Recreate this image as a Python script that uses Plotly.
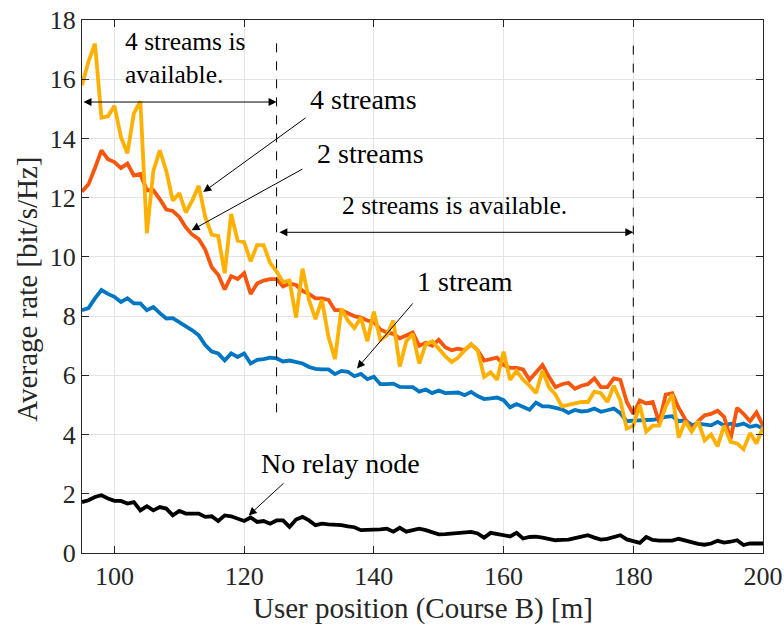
import plotly.graph_objects as go

# ---------------- data ----------------
position_m = list(range(95, 201))

rate_4_streams = [
    15.8, 16.6, 17.2, 14.7, 14.75, 15.1, 14.05, 13.5, 14.85, 15.25,
    10.8, 12.9, 13.6, 12.9, 11.9, 12.15, 11.5, 11.9, 12.4, 11.35,
    10.75, 10.7, 9.45, 11.45, 10.55, 10.5, 9.85, 10.4, 10.4, 9.8,
    9.5, 9.15, 9.2, 7.95, 9.6, 8.55, 7.9, 8.55, 7.3, 6.55,
    8.25, 7.85, 7.6, 7.95, 7.15, 8.15, 7.2, 7.35, 7.85, 6.3,
    7.15, 7.4, 6.4, 7.05, 7.15, 6.9, 6.65, 6.45, 6.6, 6.85,
    7.05, 6.85, 5.95, 6.1, 5.85, 6.8, 5.85, 6.15, 5.85, 5.65,
    5.4, 6.15, 5.6, 5.35, 4.95, 5.0, 5.05, 5.1, 5.1, 5.45,
    5.4, 5.1, 5.65, 5.15, 4.2, 4.3, 5.0, 4.1, 4.3, 4.3,
    4.95, 5.35, 3.9, 4.45, 4.1, 4.45, 3.8, 4.0, 3.6, 4.3,
    3.75, 3.7, 3.5, 4.05, 3.7, 4.25,
]

rate_2_streams = [
    12.2, 12.45, 13.0, 13.6, 13.3, 13.2, 13.0, 13.15, 12.75, 12.8,
    12.25, 12.25, 11.95, 11.6, 11.55, 11.35, 11.0, 10.75, 10.6, 10.25,
    9.65, 9.4, 8.9, 9.35, 9.25, 9.45, 8.75, 9.1, 9.2, 9.25,
    9.25, 9.0, 9.1, 9.05, 8.85, 8.75, 8.6, 8.6, 8.55, 8.2,
    8.2, 8.1, 8.0, 7.95, 7.85, 7.8, 7.55, 7.45, 7.4, 7.25,
    7.35, 7.45, 7.0, 7.1, 7.0, 7.2, 6.95, 6.85, 6.9, 6.85,
    7.05, 6.85, 6.5, 6.55, 6.6, 6.35, 6.25, 6.25, 6.2, 5.85,
    6.1, 6.35, 5.95, 5.6, 5.7, 5.75, 5.55, 5.65, 5.7, 5.9,
    5.6, 5.6, 5.9, 5.85, 5.1, 4.7, 5.15, 5.05, 5.1, 4.4,
    5.35, 5.4, 4.9, 4.5, 4.15, 4.45, 4.65, 4.7, 4.8, 4.6,
    3.85, 4.9, 4.7, 4.45, 4.75, 4.3,
]

rate_1_stream = [
    8.2, 8.27, 8.6, 8.88, 8.75, 8.65, 8.48, 8.6, 8.43, 8.43,
    8.2, 8.31, 8.1, 7.92, 7.93, 7.8, 7.65, 7.52, 7.35, 7.02,
    6.8, 6.74, 6.5, 6.74, 6.62, 6.74, 6.4, 6.52, 6.55, 6.6,
    6.57, 6.47, 6.5, 6.45, 6.4, 6.28, 6.22, 6.2, 6.2, 6.04,
    6.15, 6.12, 5.97, 6.05, 5.87, 5.95, 5.7, 5.7, 5.72, 5.61,
    5.61, 5.6, 5.45, 5.52, 5.4, 5.49, 5.4, 5.42, 5.42, 5.33,
    5.44, 5.3, 5.2, 5.22, 5.25, 5.16, 4.92, 5.03, 4.95, 4.84,
    5.08, 4.95, 4.95, 4.9, 4.85, 4.73, 4.83, 4.78, 4.8, 4.88,
    4.77, 4.82, 4.88, 4.72, 4.45, 4.47, 4.48, 4.48, 4.5, 4.54,
    4.6, 4.62, 4.45, 4.48, 4.32, 4.37, 4.35, 4.31, 4.43, 4.31,
    4.37, 4.31, 4.37, 4.26, 4.31, 4.2,
]

rate_no_relay = [
    1.72, 1.78, 1.89, 1.95, 1.84, 1.76, 1.76, 1.67, 1.72, 1.44,
    1.58, 1.44, 1.55, 1.5, 1.27, 1.42, 1.33, 1.33, 1.33, 1.22,
    1.24, 1.08, 1.27, 1.24, 1.16, 1.08, 1.2, 1.05, 1.08, 0.99,
    1.1, 1.1, 0.88, 1.13, 1.22, 1.1, 0.94, 0.99, 0.97, 0.96,
    0.94, 0.9, 0.87, 0.77, 0.77, 0.79, 0.8, 0.82, 0.72, 0.85,
    0.72, 0.77, 0.82, 0.77, 0.7, 0.63, 0.64, 0.65, 0.67, 0.69,
    0.71, 0.66, 0.52, 0.68, 0.65, 0.6, 0.56, 0.68, 0.49, 0.54,
    0.55, 0.52, 0.48, 0.43, 0.44, 0.45, 0.5, 0.55, 0.6, 0.52,
    0.45, 0.48, 0.54, 0.6, 0.46, 0.4, 0.34, 0.54, 0.44, 0.42,
    0.41, 0.42, 0.48, 0.42, 0.37, 0.31, 0.28, 0.32, 0.41, 0.35,
    0.38, 0.43, 0.27, 0.32, 0.32, 0.32,
]

x_ticks = [100, 120, 140, 160, 180, 200]
y_ticks = [0, 2, 4, 6, 8, 10, 12, 14, 16, 18]

# ---------------- figure ----------------
FONT = "Liberation Serif"
fig = go.Figure()

series = [
    ("1 stream", rate_1_stream, "#0076C2"),
    ("2 streams", rate_2_streams, "#F8560C"),
    ("4 streams", rate_4_streams, "#FFB000"),
    ("No relay node", rate_no_relay, "#000000"),
]
for name, vals, col in series:
    fig.add_trace(go.Scatter(x=position_m, y=vals, mode="lines", name=name,
                             line=dict(color=col, width=3.8), showlegend=False))

# dashed boundaries
fig.add_shape(type="line", x0=125, x1=125, y0=4.75, y1=17.4,
              line=dict(color="black", width=1, dash="dash"))
fig.add_shape(type="line", x0=180, x1=180, y0=2.85, y1=17.3,
              line=dict(color="black", width=1, dash="dash"))

ann = []
# double arrows
ann.append(dict(x=125, y=15.23, ax=95, ay=15.23, xref="x", yref="y", axref="x", ayref="y",
                text="", showarrow=True, arrowside="end+start", arrowhead=2, startarrowhead=2,
                arrowsize=1.6, startarrowsize=1.6, arrowwidth=1, arrowcolor="black"))
ann.append(dict(x=180, y=10.83, ax=125.2, ay=10.83, xref="x", yref="y", axref="x", ayref="y",
                text="", showarrow=True, arrowside="end+start", arrowhead=2, startarrowhead=2,
                arrowsize=1.6, startarrowsize=1.6, arrowwidth=1, arrowcolor="black"))
# pointer arrows
for (tx, ty, hx, hy) in [(129.7, 14.73, 113.7, 12.19),
                         (129.2, 12.99, 111.9, 10.9),
                         (146.2, 8.48, 137.4, 6.23),
                         (126.3, 2.4, 120.7, 1.27)]:
    ann.append(dict(x=hx, y=hy, ax=tx, ay=ty, xref="x", yref="y", axref="x", ayref="y",
                    text="", showarrow=True, arrowhead=2, arrowsize=1.6, arrowwidth=1,
                    arrowcolor="black"))
# labels
labels = [
    ("4 streams is<br>available.", 101.3, 16.7, 25.5, "left"),
    ("4 streams", 138.4, 15.33, 28, "center"),
    ("2 streams", 139.5, 13.5, 28, "center"),
    ("2 streams is available.", 152.5, 11.74, 25.5, "center"),
    ("1 stream", 154.1, 9.18, 28, "center"),
    ("No relay node", 134.9, 3.03, 28, "center"),
]
for txt, lx, ly, fs, al in labels:
    ann.append(dict(x=lx, y=ly, xref="x", yref="y", text=txt, showarrow=False,
                    xanchor=al, yanchor="middle", align=al,
                    font=dict(family=FONT, size=fs, color="black")))
# axis titles
ann.append(dict(x=0.5, y=-0.104, xref="paper", yref="paper", text="User position (Course B) [m]",
                showarrow=False, xanchor="center", yanchor="middle",
                font=dict(family=FONT, size=29, color="#262626")))
ann.append(dict(x=-0.08, y=0.495, xref="paper", yref="paper", text="Average rate [bit/s/Hz]",
                showarrow=False, xanchor="center", yanchor="middle", textangle=-90,
                font=dict(family=FONT, size=29, color="#262626")))

axis_common = dict(showline=True, linecolor="#262626", linewidth=1, mirror="ticks",
                   ticks="inside", ticklen=7, tickcolor="#262626", automargin=False,
                   showgrid=True, gridcolor="#E3E3E3", gridwidth=1, zeroline=False,
                   tickfont=dict(family=FONT, size=26, color="#262626"))

fig.update_layout(
    template="none",
    width=784, height=628,
    margin=dict(l=82, r=21, t=20, b=75, autoexpand=False),
    paper_bgcolor="white", plot_bgcolor="white",
    font=dict(family=FONT),
    annotations=ann,
    xaxis=dict(range=[95, 200], tickvals=x_ticks, **axis_common),
    yaxis=dict(range=[0, 18], tickvals=y_ticks, **axis_common),
)

fig.write_html("out.html")
